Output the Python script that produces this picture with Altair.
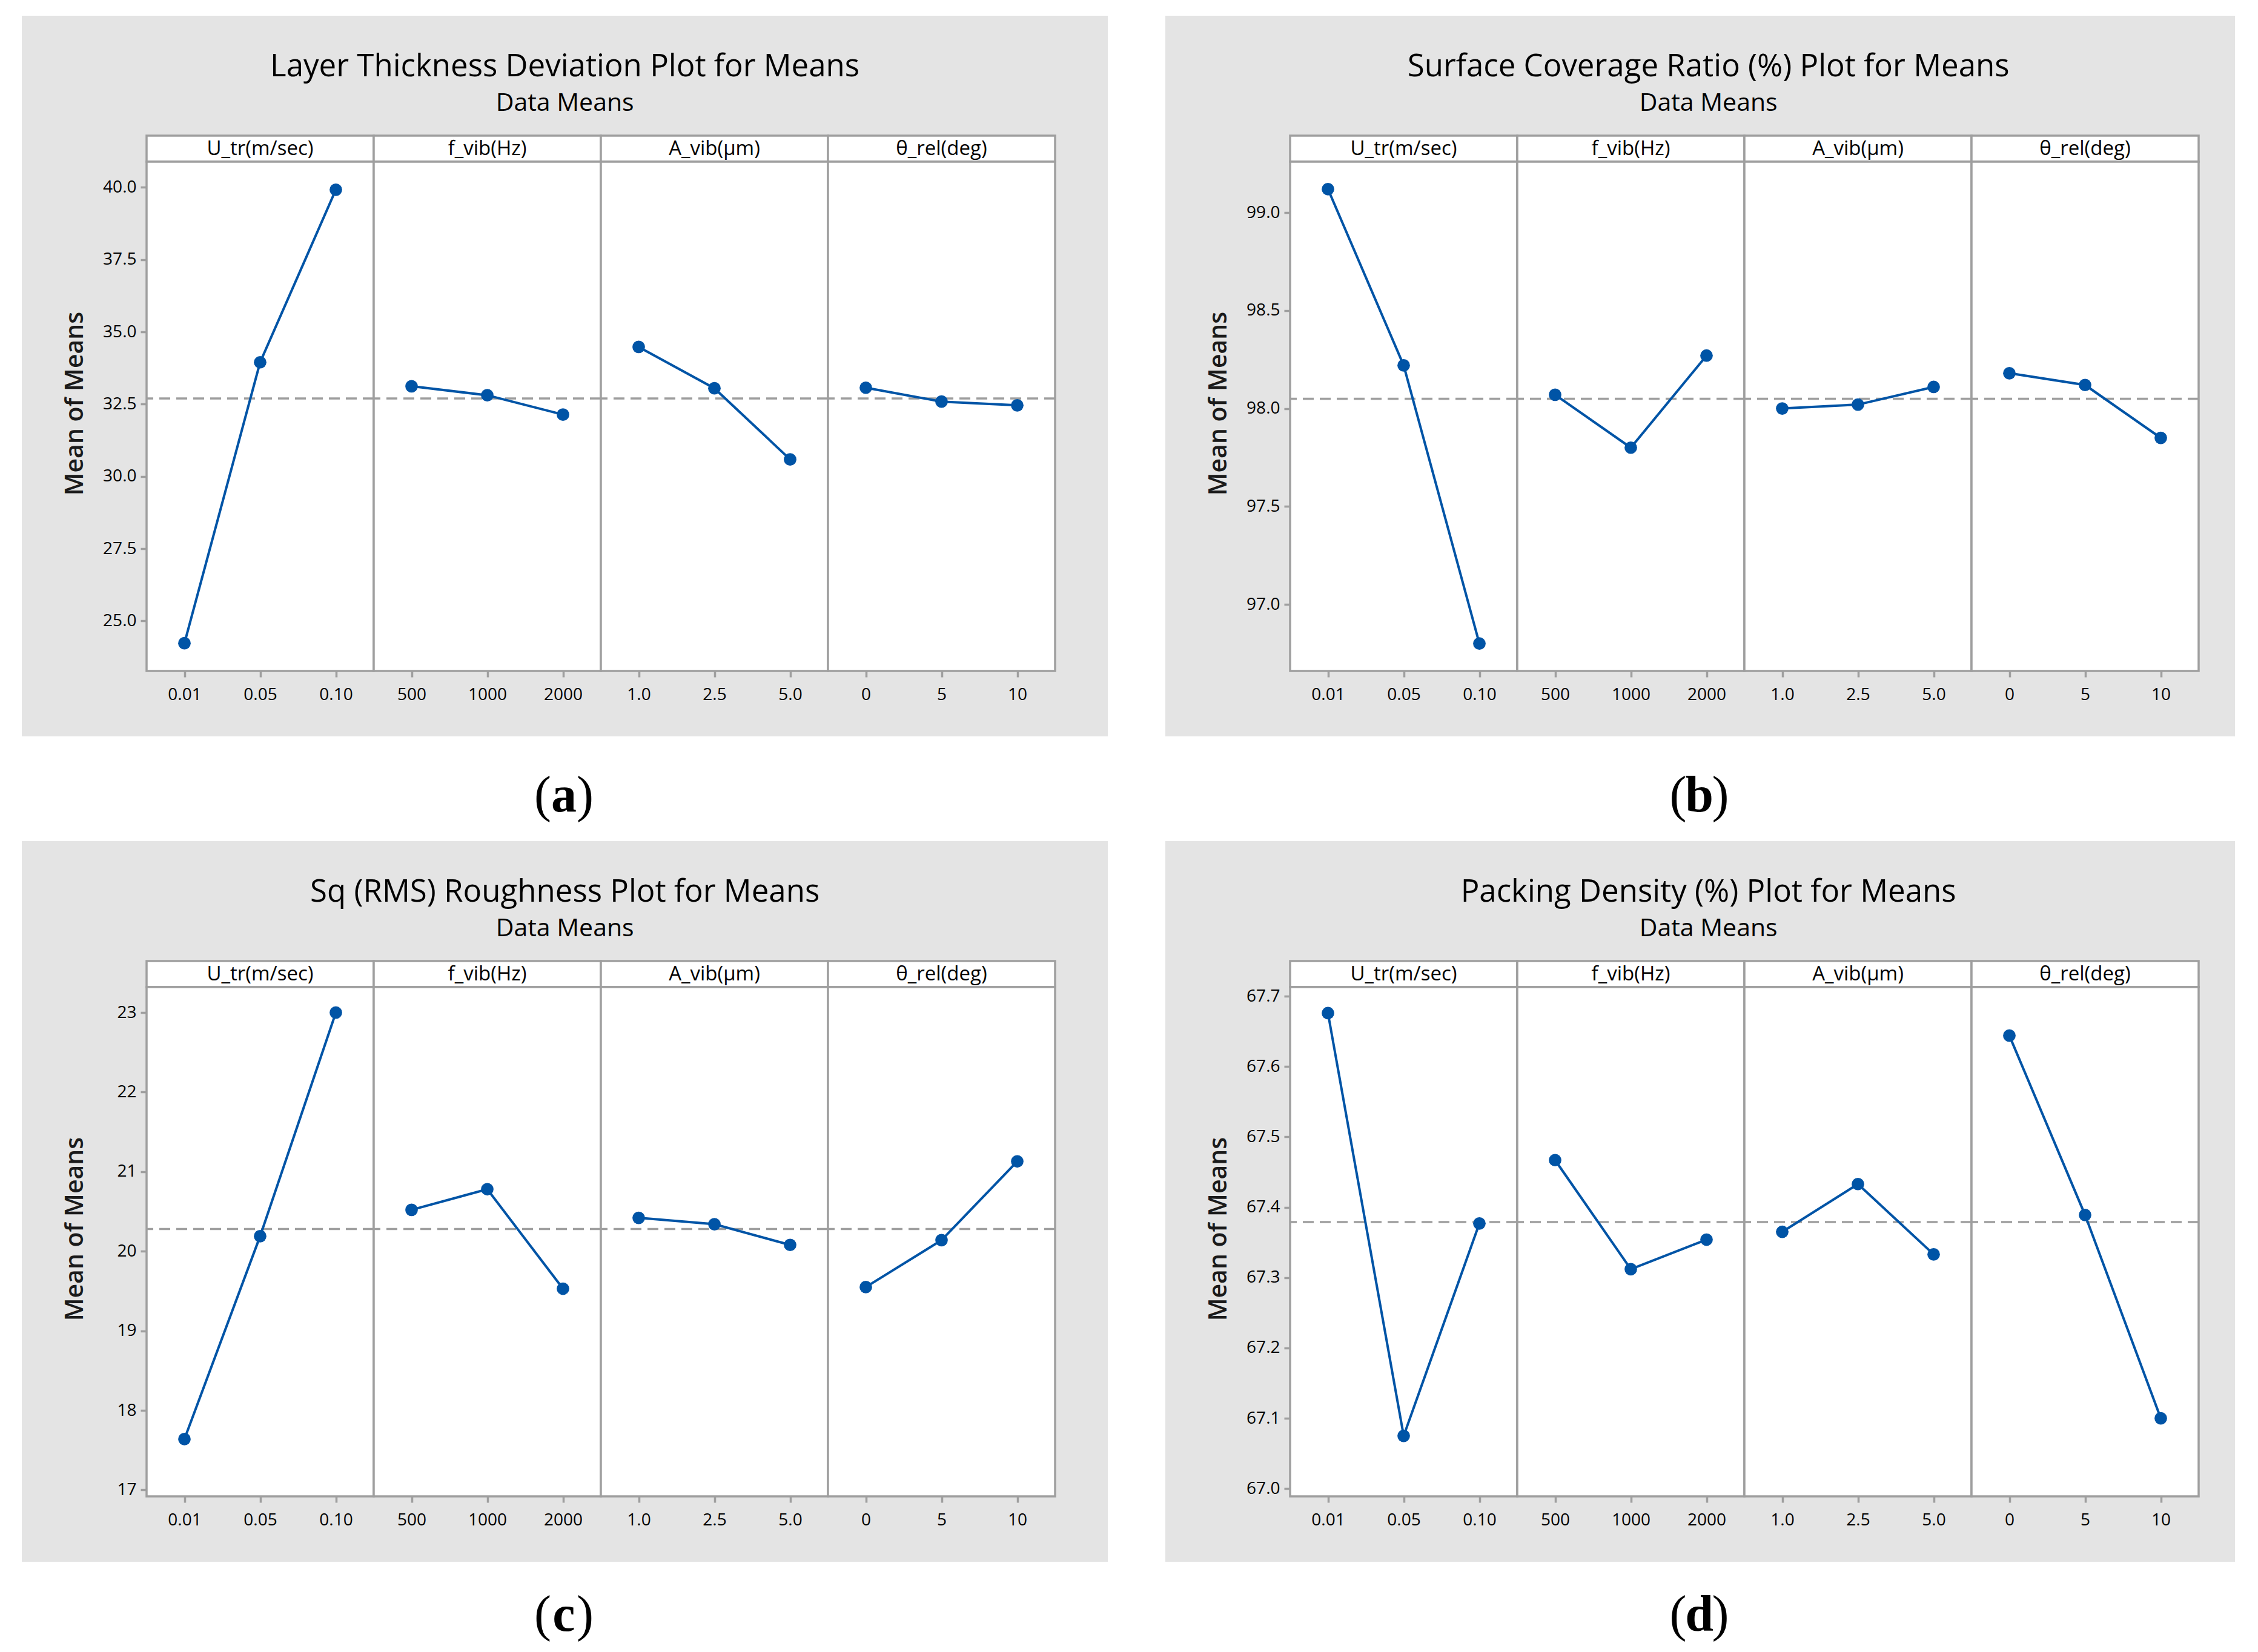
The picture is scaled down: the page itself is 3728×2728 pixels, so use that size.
import altair as alt
import pandas as pd

# ---------------- data ----------------
FACTORS = ["U_tr(m/sec)", "f_vib(Hz)", "A_vib(µm)", "θ_rel(deg)"]
U_LEVELS = ["0.01", "0.05", "0.10"]
F_LEVELS = ["500", "1000", "2000"]
A_LEVELS = ["1.0", "2.5", "5.0"]
T_LEVELS = ["0", "5", "10"]
LEVELS = [U_LEVELS, F_LEVELS, A_LEVELS, T_LEVELS]

TITLES = [
    "Layer Thickness Deviation Plot for Means",
    "Surface Coverage Ratio (%) Plot for Means",
    "Sq (RMS) Roughness Plot for Means",
    "Packing Density (%) Plot for Means",
]
LETTERS = ["a", "b", "c", "d"]

# (a) Layer thickness deviation
LTD_U = [24.23, 33.95, 39.92]
LTD_F = [33.12, 32.81, 32.14]
LTD_A = [34.48, 33.05, 30.59]
LTD_T = [33.07, 32.59, 32.46]
LTD_MEAN = 32.70
LTD_TICKS = [25.0, 27.5, 30.0, 32.5, 35.0, 37.5, 40.0]
LTD_DOMAIN = [23.27, 40.89]

# (b) Surface coverage ratio
SCR_U = [99.12, 98.22, 96.80]
SCR_F = [98.07, 97.80, 98.27]
SCR_A = [98.00, 98.02, 98.11]
SCR_T = [98.18, 98.12, 97.85]
SCR_MEAN = 98.05
SCR_TICKS = [97.0, 97.5, 98.0, 98.5, 99.0]
SCR_DOMAIN = [96.66, 99.26]

# (c) Sq roughness
SQ_U = [17.64, 20.19, 23.00]
SQ_F = [20.52, 20.78, 19.53]
SQ_A = [20.42, 20.34, 20.08]
SQ_T = [19.55, 20.14, 21.13]
SQ_MEAN = 20.28
SQ_TICKS = [17, 18, 19, 20, 21, 22, 23]
SQ_DOMAIN = [16.92, 23.32]

# (d) Packing density
PD_U = [67.676, 67.075, 67.377]
PD_F = [67.467, 67.312, 67.354]
PD_A = [67.365, 67.433, 67.333]
PD_T = [67.644, 67.389, 67.100]
PD_MEAN = 67.379
PD_TICKS = [67.0, 67.1, 67.2, 67.3, 67.4, 67.5, 67.6, 67.7]
PD_DOMAIN = [66.989, 67.713]

PANELS = [
    ([LTD_U, LTD_F, LTD_A, LTD_T], LTD_MEAN, LTD_DOMAIN, LTD_TICKS, ".1f"),
    ([SCR_U, SCR_F, SCR_A, SCR_T], SCR_MEAN, SCR_DOMAIN, SCR_TICKS, ".1f"),
    ([SQ_U, SQ_F, SQ_A, SQ_T], SQ_MEAN, SQ_DOMAIN, SQ_TICKS, "d"),
    ([PD_U, PD_F, PD_A, PD_T], PD_MEAN, PD_DOMAIN, PD_TICKS, ".1f"),
]

# ---------------- style ----------------
BLUE = "#0054a6"
FRAME = "#9f9f9f"
BG = "#e4e4e4"
FONT = "Open Sans"
COLW = 375
PLOTH = 841
HEADH = 43
ROWH = 1190
SPACING = 65
GAP_L = 28
GAP_M = 95
RIGHT_PAD = 18
TOP_PAD = 59
TOP_BAND = 18
FULL_W = 3682
LAB_A_W = 1846
LAB_MID_W = 67
LAB_B_W = FULL_W - LAB_A_W - LAB_MID_W


def spacer(w, h, fill=None):
    view = alt.ViewBackground(fill=fill, strokeWidth=0) if fill else alt.ViewBackground(strokeWidth=0)
    return (
        alt.Chart(pd.DataFrame({"v": [0]}))
        .mark_point(opacity=0, size=1)
        .encode(x=alt.value(1), y=alt.value(1))
        .properties(width=w, height=h, view=view)
    )


def plot_chart(levels, values, domain, ticks, fmt, mean, first):
    df = pd.DataFrame({"level": levels, "value": values, "order": list(range(len(levels)))})
    x = alt.X(
        "level:N",
        sort=levels,
        scale=alt.Scale(type="point", padding=0.5),
        axis=alt.Axis(
            title=None, labelFont=FONT, labelFontSize=28, labelColor="black", labelAngle=0,
            tickColor=FRAME, tickWidth=3.5, tickSize=10, labelPadding=15, domain=False, grid=False,
        ),
    )
    if first:
        yaxis = alt.Axis(
            title="Mean of Means", titleFont=FONT, titleFontSize=41, titleFontWeight=600,
            titleColor="#1a1a1a", titlePadding=25, titleY=(PLOTH - HEADH) / 2,
            values=ticks, format=fmt, labelFont=FONT, labelFontSize=28, labelColor="black",
            tickColor=FRAME, tickWidth=3.5, tickSize=10, labelPadding=7, domain=False, grid=False,
            minExtent=72, maxExtent=72,
        )
    else:
        yaxis = None
    y = alt.Y("value:Q", scale=alt.Scale(domain=domain, nice=False, zero=False), axis=yaxis)

    rule = (
        alt.Chart(pd.DataFrame({"value": [mean]}))
        .mark_rule(color=FRAME, strokeDash=[18, 10], strokeWidth=3.5)
        .encode(y=y)
    )
    base = alt.Chart(df)
    line = base.mark_line(color=BLUE, strokeWidth=4).encode(x=x, y=y, order="order:Q")
    pts = base.mark_circle(color=BLUE, size=430, opacity=1).encode(x=x, y=y)
    return alt.layer(rule, line, pts).properties(
        width=COLW, height=PLOTH,
        view=alt.ViewBackground(fill="white", stroke=FRAME, strokeWidth=3.5),
    )


def header_chart(name):
    pscale = alt.Scale(type="point", padding=0.5)
    return (
        alt.Chart(pd.DataFrame({"name": [name]}))
        .mark_text(font=FONT, fontSize=33, color="black", baseline="middle")
        .encode(
            x=alt.X("name:N", axis=None, scale=pscale),
            y=alt.Y("name:N", axis=None, scale=pscale),
            text="name:N",
        )
        .properties(
            width=COLW, height=HEADH,
            view=alt.ViewBackground(fill="white", stroke=FRAME, strokeWidth=3.5),
        )
    )


def panel(idx):
    series, mean, domain, ticks, fmt = PANELS[idx]
    headers = [header_chart(FACTORS[i]) for i in range(4)]
    plots = [
        plot_chart(LEVELS[i], series[i], domain, ticks, fmt, mean, i == 0)
        for i in range(4)
    ]
    grid = alt.concat(*headers, *plots, columns=4, spacing=0, bounds="flush")
    inner = alt.hconcat(grid, spacer(RIGHT_PAD, 1), spacing=0).properties(
        title=alt.TitleParams(
            text=TITLES[idx], subtitle="Data Means", font=FONT, fontSize=51,
            fontWeight="normal", color="black", subtitleFont=FONT, subtitleFontSize=41,
            subtitleColor="black", subtitlePadding=14, offset=30, anchor="middle",
        )
    )
    return alt.vconcat(spacer(1, TOP_PAD), inner, spacing=0)


def label_unit(letter, w, h, base_y):
    df = pd.DataFrame({"open": ["("], "mid": [letter], "close": [")"], "key": [letter]})
    xenc = alt.X("key:N", axis=None, scale=alt.Scale(type="point", padding=0.5))
    b = alt.Chart(df)
    common = dict(font="Liberation Serif", fontSize=84, color="black", baseline="alphabetic")
    o = b.mark_text(align="right", dx=-21, **common).encode(x=xenc, y=alt.value(base_y), text="open:N")
    m = b.mark_text(align="center", fontWeight="bold", **common).encode(x=xenc, y=alt.value(base_y), text="mid:N")
    c = b.mark_text(align="left", dx=21, **common).encode(x=xenc, y=alt.value(base_y), text="close:N")
    return alt.layer(o, m, c).properties(
        width=w, height=h, view=alt.ViewBackground(fill="white", strokeWidth=0)
    )


def row(i, j):
    return alt.hconcat(
        spacer(GAP_L, ROWH, "white"), panel(i), spacer(GAP_M, ROWH, "white"), panel(j),
        spacing=SPACING,
    )


def band(i, j, h, base_y):
    return alt.hconcat(
        label_unit(LETTERS[i], LAB_A_W, h, base_y),
        spacer(LAB_MID_W, h, "white"),
        label_unit(LETTERS[j], LAB_B_W, h, base_y),
        spacing=0,
    )


chart = (
    alt.vconcat(
        spacer(FULL_W, TOP_BAND, "white"),
        row(0, 1),
        band(0, 1, 173, 124),
        row(2, 3),
        band(2, 3, 141, 114),
        spacing=0,
    )
    .properties(padding={"left": 0, "top": 0, "right": 0, "bottom": 0})
    .configure(background=BG, font=FONT)
    .configure_view(stroke="transparent")
)

chart.save("out.html", embed_options={"renderer": "svg", "actions": False})
